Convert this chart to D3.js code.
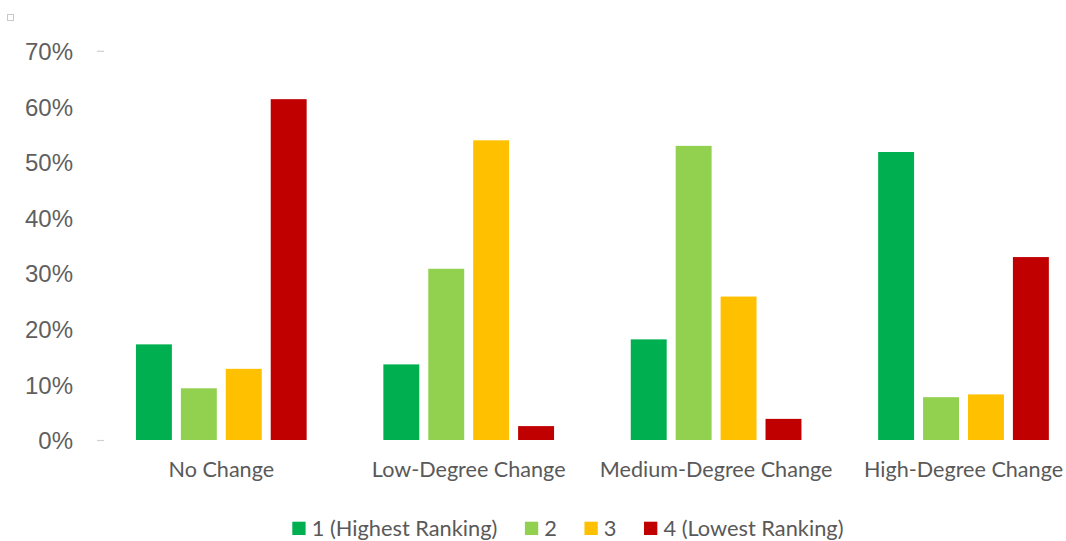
<!DOCTYPE html>
<html>
<head>
<meta charset="utf-8">
<script src="https://cdn.jsdelivr.net/npm/d3@7"></script>
<style>
  html, body { margin: 0; padding: 0; background: #ffffff; }
  svg { display: block; }
</style>
</head>
<body>
<svg id="chart" width="1066" height="541"></svg>
<script>
// Share of each ranking within each degree of change
const categories = ["No Change", "Low-Degree Change", "Medium-Degree Change", "High-Degree Change"];
const seriesNames = ["1 (Highest Ranking)", "2", "3", "4 (Lowest Ranking)"];
const rank1 = [0.172, 0.136, 0.181, 0.518];
const rank2 = [0.093, 0.308, 0.529, 0.077];
const rank3 = [0.128, 0.539, 0.258, 0.082];
const rank4 = [0.613, 0.025, 0.038, 0.329];
const yTicks = [0, 0.1, 0.2, 0.3, 0.4, 0.5, 0.6, 0.7];
const colors = ["#00B050", "#92D050", "#FFC000", "#C00000"];

const seriesValues = [rank1, rank2, rank3, rank4];
const rows = categories.map((c, i) => ({
  category: c,
  values: seriesNames.map((s, j) => ({ series: s, value: seriesValues[j][i] }))
}));

const svg = d3.select("#chart");
const textColor = "#595959";
const labelFont = "Lato, 'Open Sans', sans-serif";

// Scales
const x0 = d3.scaleBand().domain(categories).range([97.6, 1087.2]).padding(0);
const groupPad = (x0.bandwidth() - 170.7) / 2;
const x1 = d3.scaleBand().domain(seriesNames)
  .range([groupPad, x0.bandwidth() - groupPad]).paddingInner(0.2).paddingOuter(0);
const y = d3.scaleLinear().domain([0, 0.7]).range([440, 50.8]);
const color = d3.scaleOrdinal().domain(seriesNames).range(colors);

// Small marker in the corner
svg.append("rect")
  .attr("x", 7.5).attr("y", 14.5).attr("width", 6).attr("height", 6)
  .attr("fill", "none").attr("stroke", "#c8c8c8").attr("stroke-width", 1);

// Y axis labels
const yAxis = d3.axisLeft(y).tickValues(yTicks).tickFormat(d3.format(".0%")).tickSize(0).tickPadding(0);
const yg = svg.append("g").attr("transform", "translate(73,0)").call(yAxis);
yg.select(".domain").remove();
yg.selectAll("text")
  .attr("fill", "#5f5f5f")
  .style("font-family", "'Liberation Sans', Arial, sans-serif")
  .style("font-size", "24px")
  .attr("dy", "0.36em");

// Faint tick marks at the ends of the value range
const tickMarks = svg.append("g").attr("transform", "translate(104,0)")
  .call(d3.axisLeft(y).tickValues([0, 0.7]).tickSize(7).tickFormat(""));
tickMarks.select(".domain").remove();
tickMarks.selectAll("line").attr("stroke", "#d0d0d0").attr("stroke-width", 1.2);

// Bars
const groups = svg.append("g").selectAll("g")
  .data(rows).join("g")
  .attr("transform", d => `translate(${x0(d.category)},0)`);

groups.selectAll("rect")
  .data(d => d.values).join("rect")
  .attr("x", d => x1(d.series))
  .attr("width", x1.bandwidth())
  .attr("y", d => y(d.value))
  .attr("height", d => y(0) - y(d.value))
  .attr("fill", d => color(d.series));

// Category labels
const xAxis = d3.axisBottom(x0).tickSize(0).tickPadding(0);
const xg = svg.append("g").attr("transform", "translate(0,477)").call(xAxis);
xg.select(".domain").remove();
xg.selectAll("text")
  .attr("fill", textColor)
  .attr("y", 0)
  .attr("dy", 0)
  .style("font-family", labelFont)
  .style("font-size", "21.6px");

// Legend
const legend = svg.append("g").attr("transform", "translate(292.3,0)");
let lx = 0;
seriesNames.forEach((s, i) => {
  const item = legend.append("g").attr("transform", `translate(${lx},0)`);
  item.append("rect")
    .attr("x", 0).attr("y", 521.7).attr("width", 13.3).attr("height", 13.3)
    .attr("fill", color(s));
  const t = item.append("text")
    .attr("x", 19.4).attr("y", 536)
    .attr("fill", textColor)
    .style("font-family", labelFont)
    .style("font-size", "21.8px")
    .text(s);
  lx += 19.4 + t.node().getComputedTextLength() + 27.5;
});
</script>
</body>
</html>
